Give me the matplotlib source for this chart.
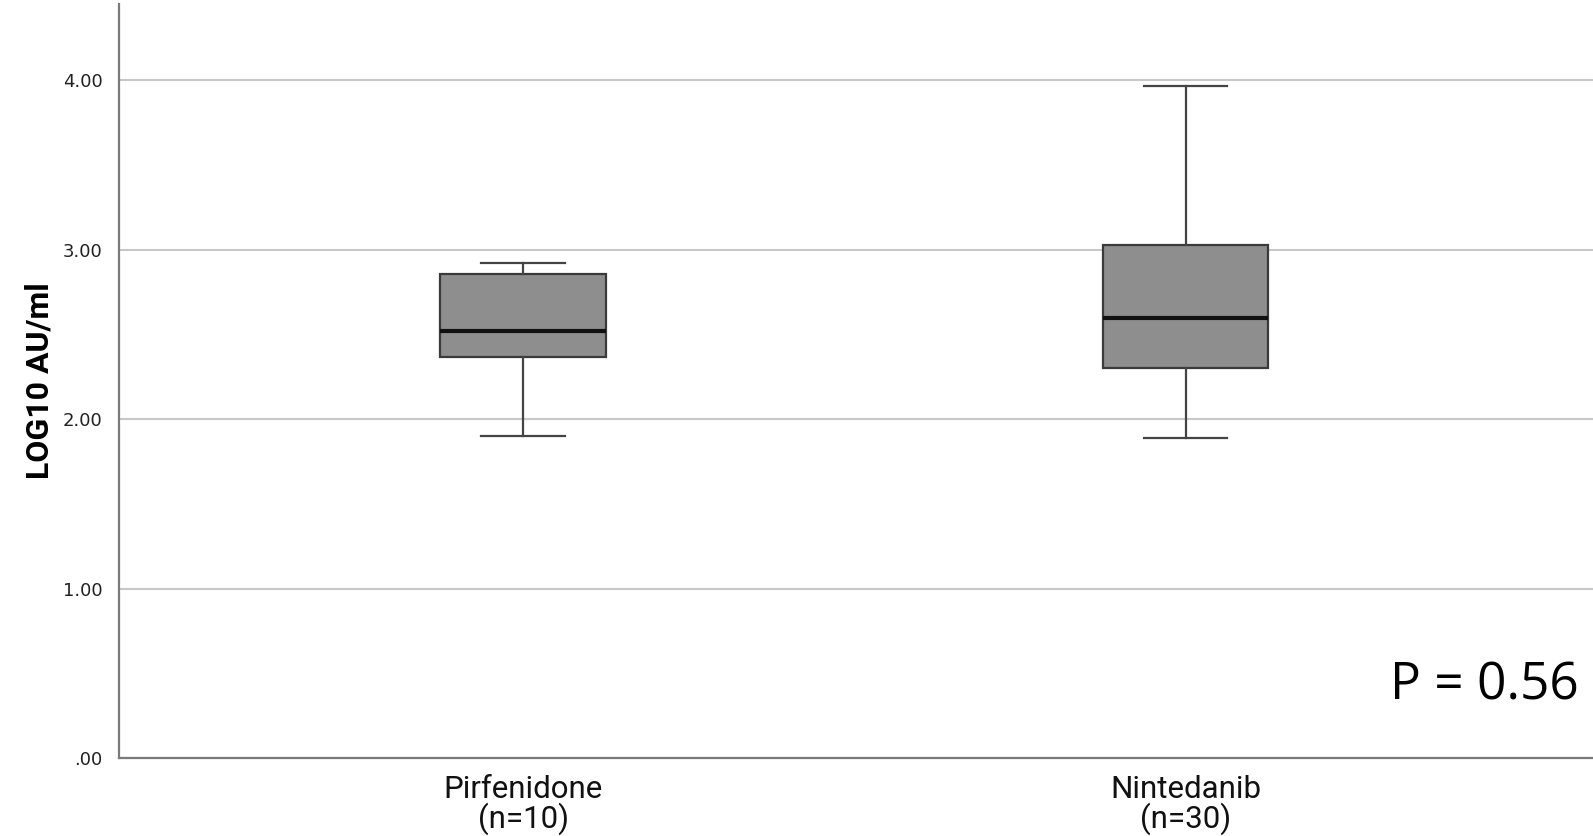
import matplotlib
matplotlib.use("Agg")
import matplotlib.pyplot as plt

# values (LOG10 AU/ml)
groups = ["Pirfenidone\n(n=10)", "Nintedanib\n(n=30)"]
whisker_low = [1.90, 1.89]
q1 = [2.37, 2.30]
median = [2.52, 2.60]
q3 = [2.855, 3.03]
whisker_high = [2.92, 3.965]
y_ticks = [0, 1, 2, 3, 4]
y_tick_labels = [".00", "1.00", "2.00", "3.00", "4.00"]
p_text = "P = 0.56"

stats = []
for i, name in enumerate(groups):
    stats.append({"label": name, "whislo": whisker_low[i], "q1": q1[i],
                  "med": median[i], "q3": q3[i], "whishi": whisker_high[i],
                  "fliers": []})

fig = plt.figure(figsize=(15.93, 8.36), dpi=100)
ax = fig.add_axes([0.0747, 0.0933, 0.9253, 0.9017])

ax.bxp(stats, positions=[0, 1], widths=0.25, patch_artist=True,
       showfliers=False,
       boxprops=dict(facecolor="#8e8e8e", edgecolor="#3a3a3a", linewidth=1.6),
       medianprops=dict(color="#111111", linewidth=3),
       whiskerprops=dict(color="#444444", linewidth=1.6),
       capprops=dict(color="#444444", linewidth=1.6),
       capwidths=0.126, zorder=3)

ax.set_xlim(-0.61, 1.615)
ax.set_ylim(0, 4.45)
ax.set_yticks(y_ticks)
ax.set_yticklabels(y_tick_labels, fontsize=13, color="#222222",
                   family="DejaVu Sans")
ax.set_xticks([0, 1])
ax.set_xticklabels(groups, fontsize=22.5, linespacing=0.95,
                   family=["Roboto", "DejaVu Sans"], color="#111111")
ax.tick_params(axis="both", length=0)
ax.tick_params(axis="x", pad=12)
ax.tick_params(axis="y", pad=12)

ax.yaxis.grid(True, color="#c8c8c8", linewidth=1.5, zorder=0)
ax.set_axisbelow(True)
for side in ["top", "right"]:
    ax.spines[side].set_visible(False)
for side in ["left", "bottom"]:
    ax.spines[side].set_color("#7a7a7a")
    ax.spines[side].set_linewidth(1.6)

ax.set_ylabel("LOG10 AU/ml", fontsize=23, fontweight="bold",
              family=["Roboto", "DejaVu Sans"], labelpad=6)

ax.text(0.99, 0.095, p_text, transform=ax.transAxes, ha="right", va="center",
        fontsize=37, family=["Open Sans", "DejaVu Sans"])

fig.savefig("out.png", dpi=100, facecolor="white")
